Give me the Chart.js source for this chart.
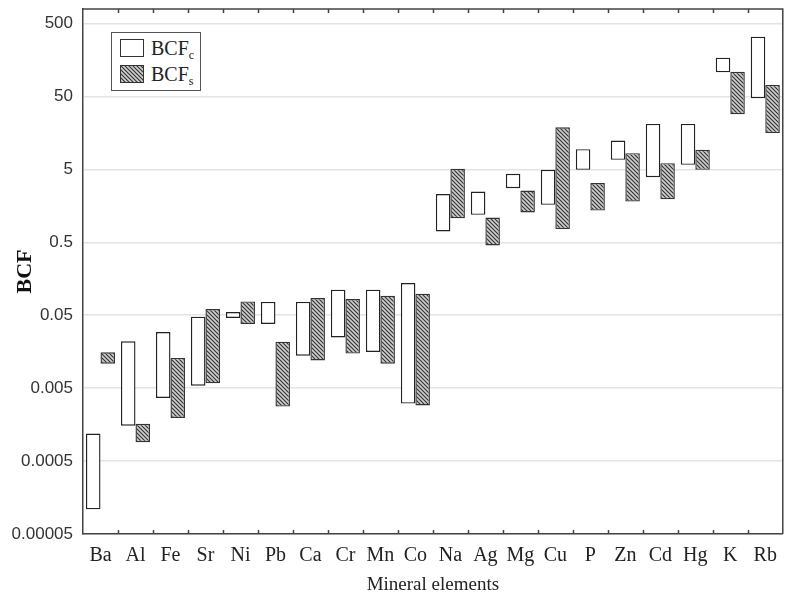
<!DOCTYPE html>
<html>
<head>
<meta charset="UTF-8">
<title>BCF</title>
<script src="https://cdn.jsdelivr.net/npm/chart.js@4.4.1/dist/chart.umd.min.js"></script>
<style>
  body { margin: 0; background: #fff; }
  #wrap { position: relative; width: 787px; height: 599px; }
  #legend {
    position: absolute; left: 111px; top: 32px; width: 88px; height: 57px;
    border: 1.5px solid #555; background: #fff;
    font-family: "Liberation Serif", "Times New Roman", serif; font-size: 20px; color: #222;
  }
  #legend .row { position: absolute; left: 8px; height: 20px; line-height: 20px; }
  #legend .sw { display: inline-block; width: 22px; height: 16px; border: 1.3px solid #333; vertical-align: -2px; margin-right: 7px; }
  #legend sub { font-size: 12px; vertical-align: -4px; }
</style>
</head>
<body>
<div id="wrap">
  <canvas id="bcfChart" width="787" height="599"></canvas>
  <div id="legend">
    <div class="row" style="top:5px"><span class="sw" style="background:#fff"></span>BCF<sub>c</sub></div>
    <div class="row" style="top:31px"><span class="sw" id="swS"></span>BCF<sub>s</sub></div>
  </div>
</div>

<script>
  var categories = ['Ba','Al','Fe','Sr','Ni','Pb','Ca','Cr','Mn','Co','Na','Ag','Mg','Cu','P','Zn','Cd','Hg','K','Rb'];

  // BCFc range (min / max)
  var bcfcMin = [0.000109, 0.00153, 0.00367, 0.0054, 0.0458, 0.0379, 0.0139, 0.0248, 0.0157, 0.00307,
                 0.703, 1.19, 2.76, 1.63, 4.92, 6.75, 3.91, 5.77, 107, 47.2];
  var bcfcMax = [0.00119, 0.0219, 0.0294, 0.0477, 0.0553, 0.076, 0.076, 0.112, 0.112, 0.138,
                 2.29, 2.48, 4.34, 4.92, 9.46, 12.4, 21.0, 21.0, 170, 330];

  // BCFs range (min / max)
  var bcfsMin = [0.0108, 0.000906, 0.00195, 0.00582, 0.0379, 0.00279, 0.012, 0.0149, 0.0108, 0.0029,
                 1.07, 0.452, 1.28, 0.759, 1.36, 1.81, 1.95, 4.92, 28.5, 15.7];
  var bcfsMax = [0.0155, 0.00162, 0.013, 0.0608, 0.0773, 0.0217, 0.0861, 0.0834, 0.0925, 0.0986,
                 5.08, 1.09, 2.56, 18.9, 3.24, 8.34, 6.08, 9.25, 109, 71.9];

  var yTicks = [0.00005, 0.0005, 0.005, 0.05, 0.5, 5, 50, 500];
  var yTickLabels = ['0.00005', '0.0005', '0.005', '0.05', '0.5', '5', '50', '500'];

  // hatch pattern for BCFs
  var pc = document.createElement('canvas');
  pc.width = 4; pc.height = 4;
  var px = pc.getContext('2d');
  px.fillStyle = '#d0d0d0';
  px.fillRect(0, 0, 4, 4);
  px.strokeStyle = '#333';
  px.lineWidth = 1.2;
  px.beginPath();
  px.moveTo(-1, -1); px.lineTo(5, 5);
  px.moveTo(-1, 3); px.lineTo(1, 5);
  px.moveTo(3, -1); px.lineTo(5, 1);
  px.stroke();
  var hatch = px.createPattern(pc, 'repeat');
  document.getElementById('swS').style.backgroundImage = 'url(' + pc.toDataURL() + ')';

  function ranges(lo, hi) {
    return lo.map(function(v, i) { return [v, hi[i]]; });
  }

  // frame + small inner ticks at category boundaries
  var framePlugin = {
    id: 'frame',
    afterDraw: function(chart) {
      var ctx = chart.ctx, a = chart.chartArea, xs = chart.scales.x;
      ctx.save();
      ctx.strokeStyle = '#444';
      ctx.lineWidth = 1.5;
      ctx.beginPath();
      ctx.moveTo(a.left, a.top); ctx.lineTo(a.right, a.top); ctx.lineTo(a.right, a.bottom);
      for (var i = 1; i < categories.length; i++) {
        var bx = Math.round((xs.getPixelForValue(i - 1) + xs.getPixelForValue(i)) / 2) + 0.5;
        ctx.moveTo(bx, a.bottom); ctx.lineTo(bx, a.bottom - 4);
        ctx.moveTo(bx, a.top); ctx.lineTo(bx, a.top + 4);
      }
      ctx.stroke();
      ctx.restore();
    }
  };

  var ctx = document.getElementById('bcfChart').getContext('2d');
  var bcfChart = new Chart(ctx, {
    type: 'bar',
    data: {
      labels: categories,
      datasets: [{
        label: 'BCFc',
        data: ranges(bcfcMin, bcfcMax),
        backgroundColor: '#ffffff',
        borderColor: '#222',
        borderWidth: 1.4,
        borderSkipped: false
      }, {
        label: 'BCFs',
        data: ranges(bcfsMin, bcfsMax),
        backgroundColor: hatch,
        borderColor: '#333',
        borderWidth: 1.4,
        borderSkipped: false
      }]
    },
    options: {
      responsive: false,
      animation: false,
      categoryPercentage: 0.83,
      barPercentage: 1.0,
      layout: { padding: { top: 9, right: 2, left: 0, bottom: 0 } },
      plugins: {
        legend: { display: false },
        tooltip: { enabled: false }
      },
      scales: {
        x: {
          grid: { display: false, drawTicks: false },
          border: { display: true, color: '#444', width: 1.5 },
          ticks: {
            padding: 10,
            color: '#222',
            font: { family: '"Liberation Serif", "Times New Roman", serif', size: 20 }
          },
          title: {
            display: true,
            text: 'Mineral elements',
            color: '#222',
            padding: { top: 0, bottom: 3 },
            font: { family: '"Liberation Serif", "Times New Roman", serif', size: 19 }
          },
          afterFit: function(s) { s.height = 65; }
        },
        y: {
          type: 'logarithmic',
          min: 0.00005,
          max: 790,
          afterBuildTicks: function(s) {
            s.ticks = yTicks.map(function(v) { return { value: v }; });
          },
          grid: { color: '#e4e4e4', lineWidth: 1.5, drawTicks: false },
          border: { display: true, color: '#444', width: 1.5 },
          ticks: {
            padding: 10,
            color: '#333',
            font: { family: '"Liberation Sans", Arial, sans-serif', size: 17 },
            callback: function(v, i) { return yTickLabels[i]; }
          },
          title: {
            display: true,
            text: 'BCF',
            color: '#111',
            padding: { top: 12, bottom: 0 },
            font: { family: '"Liberation Serif", "Times New Roman", serif', size: 22, weight: 'bold' }
          },
          afterFit: function(s) {
            s.width = 83;
            s.paddingTop = 0;
            s.paddingBottom = 0;
          }
        }
      }
    },
    plugins: [framePlugin]
  });
</script>
</body>
</html>
